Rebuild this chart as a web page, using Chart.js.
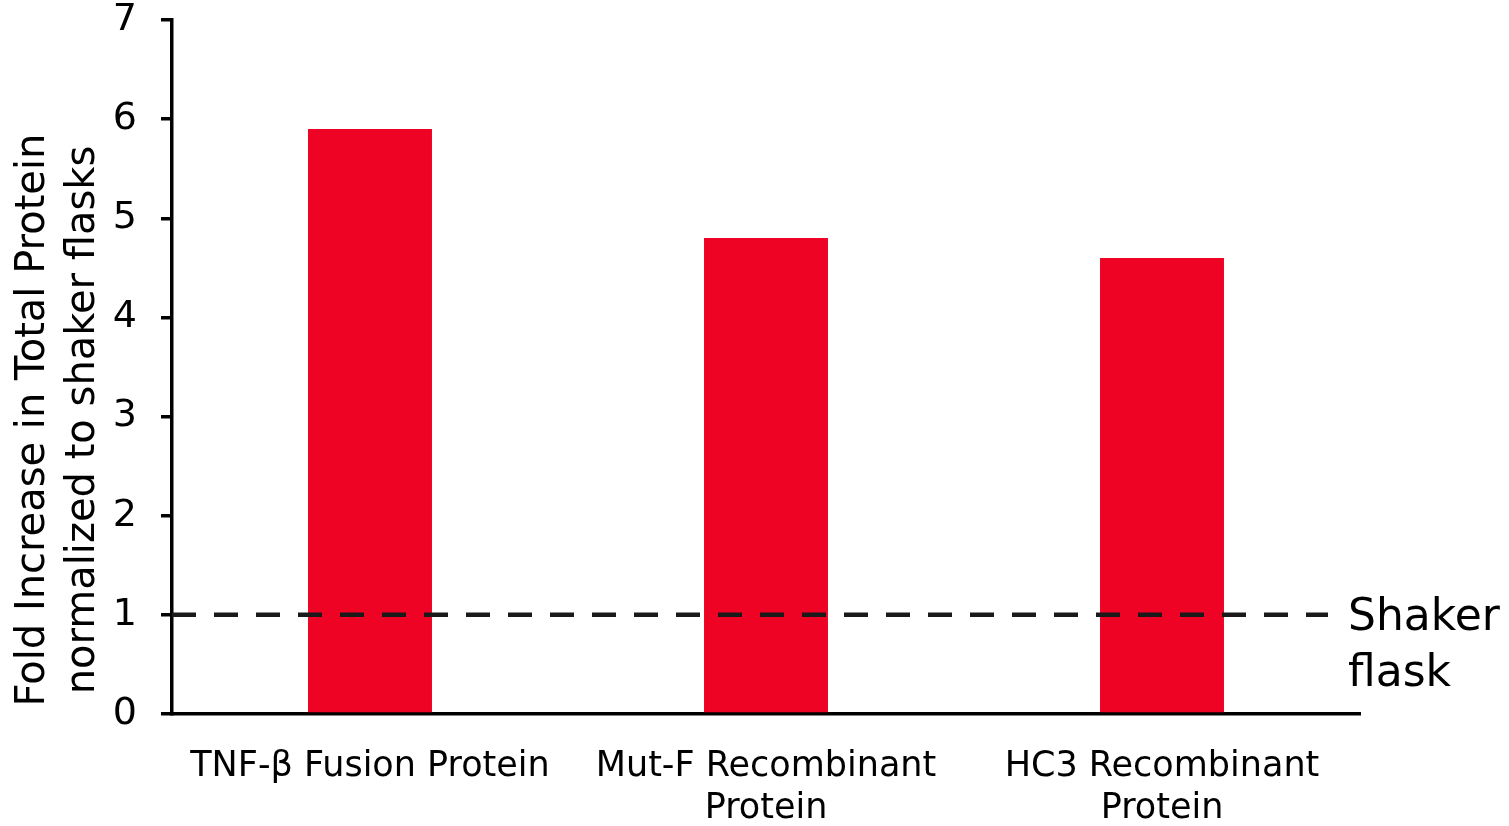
<!DOCTYPE html>
<html>
<head>
<meta charset="utf-8">
<script src="https://cdn.jsdelivr.net/npm/chart.js@4/dist/chart.umd.min.js"></script>
<style>
  html, body { margin: 0; padding: 0; background: #ffffff; }
  #wrap { width: 1509px; height: 826px; }
</style>
</head>
<body>
<div id="wrap"><canvas id="c" width="1509" height="826"></canvas></div>
<script>
// Data
const categories = [
  'TNF-\u03B2 Fusion Protein',
  ['Mut-F Recombinant', 'Protein'],
  ['HC3 Recombinant', 'Protein']
];
const foldIncrease = [5.9, 4.8, 4.6];
const shakerBaseline = 1;
const yTitleLines = ['Fold Increase in Total Protein', 'normalized to shaker flasks'];
const baselineLabel = ['Shaker', 'flask'];

const FONT = "'DejaVu Sans', sans-serif";
const INK = '#000000';

// Dashed reference line for shaker flasks plus its label
const baselinePlugin = {
  id: 'baseline',
  afterDatasetsDraw(chart) {
    const { ctx, chartArea, scales } = chart;
    const y = scales.y.getPixelForValue(shakerBaseline);
    ctx.save();
    ctx.strokeStyle = '#1a1a1a';
    ctx.lineWidth = 4.5;
    ctx.setLineDash([24, 18]);
    ctx.beginPath();
    ctx.moveTo(chartArea.left, y);
    ctx.lineTo(chartArea.right - 32, y);
    ctx.stroke();
    ctx.setLineDash([]);
    ctx.fillStyle = INK;
    ctx.font = '44px ' + FONT;
    ctx.textAlign = 'left';
    ctx.textBaseline = 'middle';
    ctx.fillText(baselineLabel[0], chartArea.right - 12, y + 4);
    ctx.fillText(baselineLabel[1], chartArea.right - 12, y + 60);
    ctx.restore();
  }
};

// Two-line rotated y-axis title
const yTitlePlugin = {
  id: 'yTitle',
  afterDraw(chart) {
    const { ctx } = chart;
    ctx.save();
    ctx.fillStyle = INK;
    ctx.font = '40px ' + FONT;
    ctx.textAlign = 'center';
    ctx.textBaseline = 'middle';
    ctx.translate(0, 420);
    ctx.rotate(-Math.PI / 2);
    ctx.fillText(yTitleLines[0], 0, 34);
    ctx.fillText(yTitleLines[1], 0, 84);
    ctx.restore();
  }
};

new Chart(document.getElementById('c'), {
  type: 'bar',
  data: {
    labels: categories,
    datasets: [{
      data: foldIncrease,
      backgroundColor: '#EE0325',
      borderWidth: 0,
      categoryPercentage: 1,
      barPercentage: 0.313
    }]
  },
  options: {
    responsive: false,
    animation: false,
    layout: { padding: { top: 20, right: 149, bottom: 0, left: 0 } },
    plugins: { legend: { display: false }, tooltip: { enabled: false } },
    scales: {
      x: {
        grid: { display: false, drawTicks: false },
        border: { display: true, color: INK, width: 3.5 },
        ticks: {
          color: INK,
          font: { family: FONT, size: 35 },
          padding: 32,
          maxRotation: 0,
          autoSkip: false
        },
        afterFit(scale) {
          scale.height = 112;
          scale.paddingLeft = 0;
          scale.paddingRight = 0;
        }
      },
      y: {
        min: 0,
        max: 7,
        grid: {
          display: true,
          drawOnChartArea: false,
          drawTicks: true,
          tickLength: 11,
          color: INK,
          lineWidth: 3.5
        },
        border: { display: true, color: INK, width: 3.5 },
        ticks: {
          stepSize: 1,
          color: INK,
          font: { family: FONT, size: 38 },
          padding: 24
        },
        afterFit(scale) {
          scale.width = 172;
          scale.paddingTop = 0;
          scale.paddingBottom = 0;
        }
      }
    }
  },
  plugins: [baselinePlugin, yTitlePlugin]
});
</script>
</body>
</html>
